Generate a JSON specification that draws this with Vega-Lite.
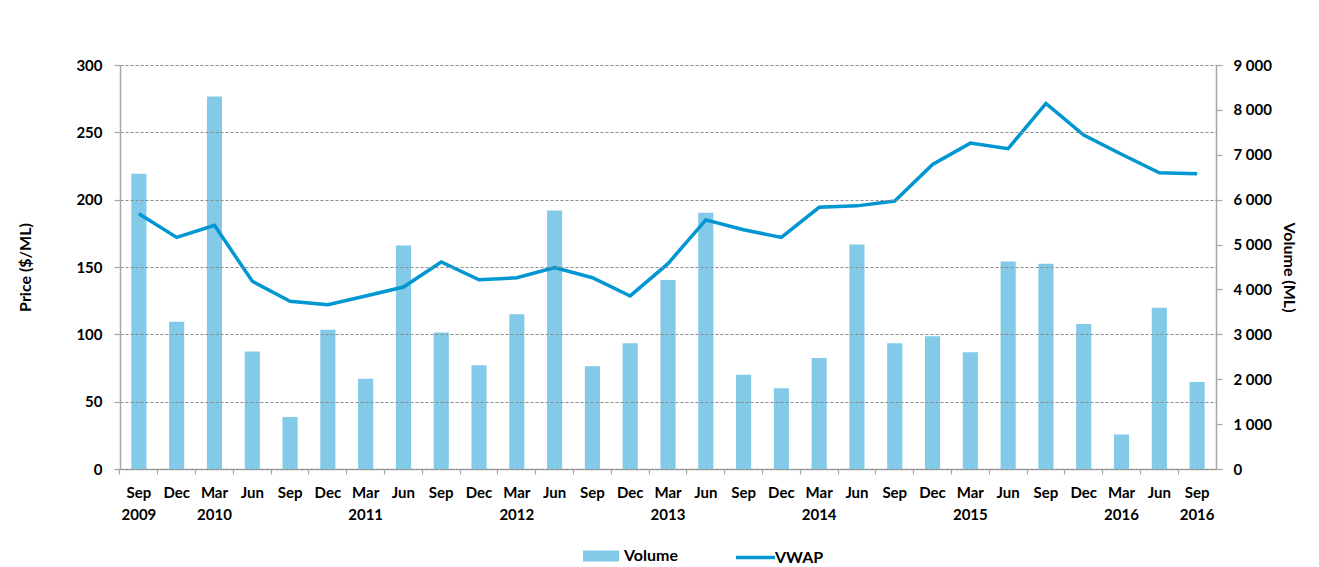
{
  "$schema": "https://vega.github.io/schema/vega-lite/v6.json",
  "width": 1096,
  "height": 404,
  "autosize": {"type": "none"},
  "padding": {"left": 120, "top": 65, "right": 103, "bottom": 98},
  "background": "white",
  "config": {
    "view": {"stroke": null},
    "font": "Lato",
    "axis": {
      "labelFontWeight": "bold",
      "labelColor": "#000000",
      "labelFontSize": 15,
      "titleFontWeight": "bold",
      "titleColor": "#000000",
      "titleFontSize": 16,
      "domainColor": "#a6a6a6",
      "domainWidth": 1.5,
      "tickColor": "#a6a6a6",
      "tickWidth": 1.2
    },
    "legend": {
      "labelFontWeight": "bold",
      "labelColor": "#000000",
      "labelFontSize": 16
    }
  },
  "data": {
    "values": [
      {"q": "Sep 2009", "volume": 6580, "vwap": 189.6},
      {"q": "Dec 2009", "volume": 3280, "vwap": 172},
      {"q": "Mar 2010", "volume": 8300, "vwap": 181},
      {"q": "Jun 2010", "volume": 2620, "vwap": 139.4},
      {"q": "Sep 2010", "volume": 1160, "vwap": 124.5},
      {"q": "Dec 2010", "volume": 3100, "vwap": 122},
      {"q": "Mar 2011", "volume": 2010, "vwap": 128.5},
      {"q": "Jun 2011", "volume": 4980, "vwap": 135.1},
      {"q": "Sep 2011", "volume": 3040, "vwap": 153.7},
      {"q": "Dec 2011", "volume": 2310, "vwap": 140.5},
      {"q": "Mar 2012", "volume": 3450, "vwap": 142},
      {"q": "Jun 2012", "volume": 5760, "vwap": 149.5},
      {"q": "Sep 2012", "volume": 2290, "vwap": 142},
      {"q": "Dec 2012", "volume": 2800, "vwap": 128.5},
      {"q": "Mar 2013", "volume": 4210, "vwap": 152.5},
      {"q": "Jun 2013", "volume": 5710, "vwap": 185},
      {"q": "Sep 2013", "volume": 2100, "vwap": 177.7},
      {"q": "Dec 2013", "volume": 1800, "vwap": 172},
      {"q": "Mar 2014", "volume": 2470, "vwap": 194.3},
      {"q": "Jun 2014", "volume": 5000, "vwap": 195.4},
      {"q": "Sep 2014", "volume": 2800, "vwap": 199},
      {"q": "Dec 2014", "volume": 2955, "vwap": 226.2},
      {"q": "Mar 2015", "volume": 2600, "vwap": 242},
      {"q": "Jun 2015", "volume": 4620, "vwap": 237.9},
      {"q": "Sep 2015", "volume": 4570, "vwap": 271.5},
      {"q": "Dec 2015", "volume": 3230, "vwap": 248},
      {"q": "Mar 2016", "volume": 770, "vwap": 233.7},
      {"q": "Jun 2016", "volume": 3590, "vwap": 220},
      {"q": "Sep 2016", "volume": 1940, "vwap": 219.3}
    ]
  },
  "encoding": {
    "x": {
      "field": "q",
      "type": "ordinal",
      "sort": null,
      "scale": {"paddingInner": 0.6, "paddingOuter": 0.3},
      "axis": {
        "title": null,
        "labelAngle": 0,
        "grid": false,
        "tickSize": 5,
        "bandPosition": -0.75,
        "labelPadding": 11,
        "labelLineHeight": 22,
        "labelBaseline": "top",
        "labelExpr": "(substring(datum.value,0,3) == 'Mar' || datum.value == 'Sep 2009' || datum.value == 'Sep 2016') ? split(datum.value, ' ') : substring(datum.value,0,3)"
      }
    }
  },
  "layer": [
    {
      "mark": {"type": "bar"},
      "encoding": {
        "y": {
          "field": "volume",
          "type": "quantitative",
          "scale": {"domain": [0, 9000], "nice": false},
          "axis": {
            "orient": "right",
            "title": "Volume (ML)",
            "values": [0, 1000, 2000, 3000, 4000, 5000, 6000, 7000, 8000, 9000],
            "grid": false,
            "tickSize": 6,
            "labelPadding": 11,
            "titlePadding": 9,
            "labelExpr": "replace(format(datum.value, ','), ',', ' ')"
          }
        },
        "color": {
          "datum": "Volume",
          "type": "nominal",
          "scale": {"range": ["#82CAE8"]},
          "legend": {
            "title": null,
            "orient": "none",
            "legendX": 463,
            "legendY": 473,
            "symbolType": "M-1,-0.3H1V0.3H-1Z",
            "symbolSize": 1296,
            "symbolStrokeWidth": 0,
            "symbolOpacity": 1,
            "labelOffset": 5
          }
        }
      }
    },
    {
      "mark": {"type": "line", "strokeWidth": 3.5},
      "encoding": {
        "y": {
          "field": "vwap",
          "type": "quantitative",
          "scale": {"domain": [0, 300], "nice": false},
          "axis": {
            "orient": "left",
            "title": "Price ($/ML)",
            "values": [0, 50, 100, 150, 200, 250, 300],
            "grid": true,
            "gridDash": [3, 2],
            "gridColor": "#8c8c8c",
            "gridWidth": 1,
            "tickSize": 6,
            "labelPadding": 12,
            "titlePadding": 42,
            "zindex": 1
          }
        },
        "stroke": {
          "datum": "VWAP",
          "type": "nominal",
          "scale": {"range": ["#0096D2"]},
          "legend": {
            "title": null,
            "orient": "none",
            "legendX": 614,
            "legendY": 471,
            "symbolType": "stroke",
            "symbolSize": 1521,
            "symbolStrokeWidth": 3.5,
            "labelOffset": -2
          }
        }
      }
    }
  ],
  "resolve": {"scale": {"y": "independent"}}
}
